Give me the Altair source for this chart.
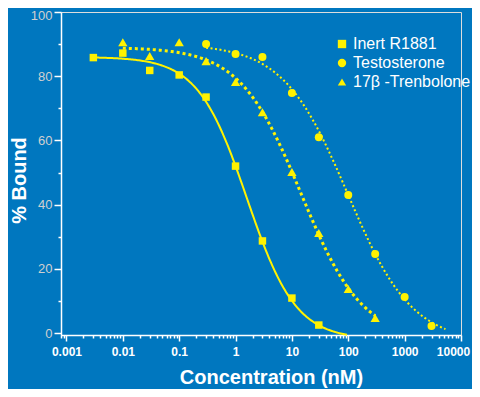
import altair as alt
import pandas as pd

# ---------------- data ----------------
SERIES = ["Inert R1881", "Testosterone", "17β -Trenbolone"]

R1881_CONC = [0.003, 0.01, 0.03, 0.1, 0.3, 1, 3, 10, 30]
R1881_BOUND = [85.8, 87.2, 81.8, 80.4, 73.5, 52.0, 28.7, 10.9, 2.5]

TESTO_CONC = [0.3, 1, 3, 10, 30, 100, 300, 1000, 3000]
TESTO_BOUND = [90.0, 86.9, 86.0, 74.8, 61.0, 43.0, 24.6, 11.2, 2.2]

TREN_CONC = [0.01, 0.03, 0.1, 0.3, 1, 3, 10, 30, 100, 300]
TREN_BOUND = [90.6, 86.3, 90.6, 84.7, 78.2, 68.8, 50.2, 31.2, 13.7, 4.7]

# fitted sigmoid (4-parameter logistic) curves, one per series
FIT_TOP = [86, 90, 89]
FIT_BOTTOM = [-2, -3, -2]
FIT_IC50 = [1.59, 97, 14.5]
FIT_HILL = [1.0, 0.76, 0.8]
FIT_FROM = [0.003, 0.3, 0.01]
FIT_TO = [95, 5300, 300]

# axis ticks
X_MAJOR = [0.001, 0.01, 0.1, 1, 10, 100, 1000, 10000]
Y_TICKS = [0, 10, 20, 30, 40, 50, 60, 70, 80, 90, 100]

# ---------------- styling ----------------
BG = "#0077BF"
YELLOW = "#FFF200"
FONT = "Liberation Sans"
SHAPES = ["square", "circle", "triangle-up"]
SIZES = [56, 64, 86]
LINE_WIDTHS = [2, 2, 3]
LINE_DASHES = [None, [2, 2.5], [3, 3]]

x_ticks = []
for k in range(-4, 4):
    for m in range(1, 10):
        v = round(m * 10.0 ** k, 10)
        if 0.0008 <= v <= 10000:
            x_ticks.append(v)
x_ticks.append(10000)

CONCS = [R1881_CONC, TESTO_CONC, TREN_CONC]
BOUNDS = [R1881_BOUND, TESTO_BOUND, TREN_BOUND]

is_major = "abs(log(datum.value)/LN10 - round(log(datum.value)/LN10)) < 0.001"

x_scale = alt.Scale(type="log", domain=[0.0008, 10000], nice=False)
y_scale = alt.Scale(domain=[-0.6, 100], nice=False, zero=False)

x_axis = alt.Axis(
    values=x_ticks,
    labelExpr=f"{is_major} ? '' + datum.value : ''",
    tickSize={"condition": {"test": f"!({is_major})", "value": 3}, "value": 6},
    labelOffset={"condition": {"test": "datum.value > 5000", "value": -8}, "value": 0},
    tickColor="white",
    tickWidth=1.5,
    domainColor="white",
    domainWidth=1.5,
    labelColor="white",
    labelFont=FONT,
    labelFontSize=12,
    labelFontWeight="bold",
    labelPadding=5,
    labelFlush=False,
    grid=False,
    title="Concentration (nM)",
    titleColor="white",
    titleFont=FONT,
    titleFontSize=20,
    titleFontWeight="bold",
    titleAnchor="start",
    titleAlign="center",
    titleBaseline="middle",
    titleX=210,
    titleY=42,
)

y_axis = alt.Axis(
    values=Y_TICKS,
    labelExpr="datum.value % 20 == 0 ? datum.label : ''",
    tickSize={"condition": {"test": "datum.value % 20 != 0", "value": 3}, "value": 7},
    labelOffset={"condition": {"test": "datum.value > 99", "value": 3}, "value": 0},
    tickColor="white",
    tickWidth=1.5,
    domainColor="white",
    domainWidth=1.5,
    labelColor="#D0D0D0",
    labelFont=FONT,
    labelFontSize=13,
    labelPadding=2,
    grid=False,
    title="% Bound",
    titleColor="white",
    titleFont=FONT,
    titleFontSize=20,
    titleFontWeight="bold",
    titleAngle=270,
    titleAlign="center",
    titleBaseline="middle",
    titleX=-42,
    titleY=168,
)

X = alt.X("conc:Q", scale=x_scale, axis=x_axis)
Y = alt.Y("bound:Q", scale=y_scale, axis=y_axis)

layers = []
for i in range(3):
    lo, hi = FIT_FROM[i], FIT_TO[i]
    mark_kw = dict(color=YELLOW, strokeWidth=LINE_WIDTHS[i], clip=False)
    if LINE_DASHES[i] is not None:
        mark_kw["strokeDash"] = LINE_DASHES[i]
    line = (
        alt.Chart(alt.sequence(0, 1.0001, 0.005, as_="t"))
        .transform_calculate(
            conc=f"pow(10, log({lo})/LN10 + datum.t*(log({hi})/LN10 - log({lo})/LN10))"
        )
        .transform_calculate(
            bound=f"{FIT_BOTTOM[i]} + ({FIT_TOP[i]} - ({FIT_BOTTOM[i]}))/(1 + pow(datum.conc/{FIT_IC50[i]}, {FIT_HILL[i]}))"
        )
        .mark_line(**mark_kw)
        .encode(x=X, y=Y)
    )
    layers.append(line)

shape_enc = alt.Shape(
    "series:N",
    title=None,
    scale=alt.Scale(domain=SERIES, range=SHAPES),
    legend=alt.Legend(
        orient="none",
        legendX=273,
        legendY=24,
        labelColor="white",
        labelFont=FONT,
        labelFontSize=16,
        labelOffset=3,
        symbolSize=70,
        symbolFillColor=YELLOW,
        symbolStrokeColor=YELLOW,
        rowPadding=3,
    ),
)

for i in range(3):
    df = pd.DataFrame({"series": [SERIES[i]] * len(CONCS[i]), "conc": CONCS[i], "bound": BOUNDS[i]})
    pts = (
        alt.Chart(df)
        .mark_point(filled=True, opacity=1, color=YELLOW, size=SIZES[i])
        .encode(x=X, y=Y, shape=shape_enc)
    )
    layers.append(pts)

chart = (
    alt.layer(*layers)
    .properties(
        width=400,
        height=323,
        background=BG,
        padding={"left": 53, "top": 4, "right": 11, "bottom": 54},
        autosize=alt.AutoSizeParams(type="none"),
    )
    .configure_view(strokeWidth=0)
    .configure_legend(padding=0)
    .configure(font=FONT)
)

chart.save("out.html", embed_options={"renderer": "svg", "actions": False})
